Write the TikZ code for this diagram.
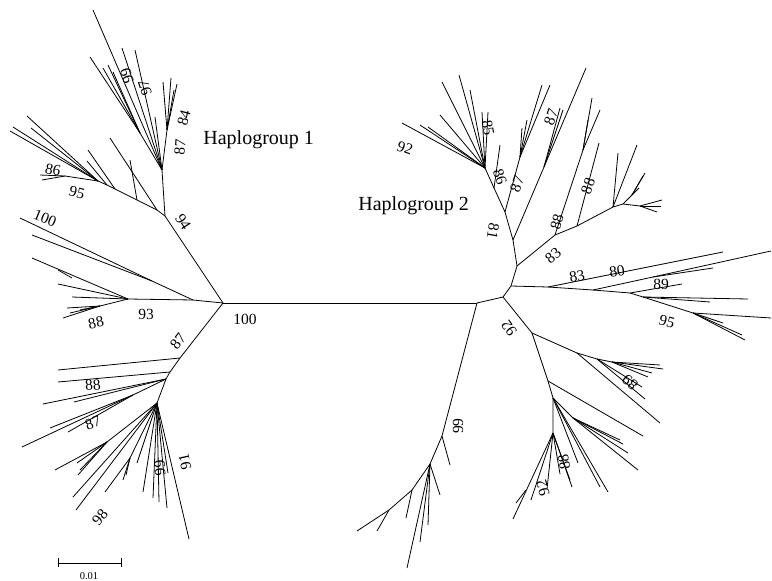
\documentclass[tikz,border=0pt]{standalone}
\usepackage{fontspec}
\setmainfont{Liberation Serif}
\begin{document}
\begin{tikzpicture}[x=1pt,y=-1pt,
  every path/.style={line width=0.8pt},
  bs/.style={font=\fontsize{15.5}{18}\selectfont, inner sep=0pt},
  hg/.style={font=\fontsize{20}{24}\selectfont, inner sep=0pt, anchor=west}]
\useasboundingbox (0,0) rectangle (772,581);
% ---------- trunk
\coordinate (L0) at (223,303);
\coordinate (R0) at (477,303);
\draw (L0) -- (R0);
% ---------- Haplogroup 1, upper
\coordinate (A) at (165,216);
\coordinate (A2) at (162,170);
\coordinate (A3) at (140,133);
\coordinate (A4) at (167,130);
\draw (L0) -- (A) -- (A2);
\foreach \p in {(93,10),(122,48),(135,50),(155,117)} \draw (A2) -- \p;
\draw (A2) -- (A3);
\foreach \p in {(90,57),(108,65),(113,72),(103,68)} \draw (A3) -- \p;
\draw (A2) -- (A4);
\foreach \p in {(163,82),(171,78),(177,84),(174,90)} \draw (A4) -- \p;
\coordinate (P1) at (157,210);
\coordinate (P2) at (137,200);
\coordinate (P3) at (115,189);
\coordinate (P4) at (107,185);
\coordinate (P5) at (98,181);
\coordinate (P6) at (65,176);
\draw (A) -- (P1) -- (P2) -- (P3) -- (P4) -- (P5) -- (P6) -- (40,175);
\draw (P6) -- (42,180);
\draw (P1) -- (110,138);
\draw (P2) -- (130,160);
\draw (P3) -- (88,150);
\draw (P4) -- (87,161);
\foreach \p in {(27,116),(10,131),(13,127),(31,128)} \draw (P5) -- \p;
% ---------- Haplogroup 1, left
\coordinate (B) at (193,300);
\coordinate (B1) at (152,281);
\coordinate (B2) at (128,299);
\coordinate (B3) at (100,306);
\draw (L0) -- (B) -- (B2);
\draw (B) -- (B1) -- (20,218);
\draw (B1) -- (32,235);
\draw (B2) -- (32,258);
\draw (72,278) -- (58,270);
\draw (B2) -- (58,284);
\draw (B2) -- (72,297);
\draw (B2) -- (B3);
\foreach \p in {(67,308),(63,318),(70,313),(80,310)} \draw (B3) -- \p;
% ---------- Haplogroup 1, lower
\coordinate (C1) at (180,358);
\coordinate (C2) at (170,372);
\coordinate (C3) at (166,379);
\coordinate (C5) at (133,395);
\coordinate (D) at (157,403);
\coordinate (D1) at (107,442);
\coordinate (D2) at (130,458);
\draw (L0) -- (C1) -- (C2) -- (C3) -- (D);
\draw (C1) -- (58,370);
\draw (C2) -- (58,382);
\draw (C3) -- (43,404);
\draw (C3) -- (74,402);
\draw (C3) -- (C5) -- (22,447);
\draw (C5) -- (68,432);
\draw (C5) -- (50,428);
\draw (D) -- (D1);
\foreach \p in {(55,470),(77,463),(80,470),(78,475)} \draw (D1) -- \p;
\draw (D) -- (73,497);
\draw (D) -- (76,510);
\draw (D) -- (D2);
\foreach \p in {(105,492),(123,480),(126,475)} \draw (D2) -- \p;
\foreach \p in {(137,463),(143,492),(153,498),(159,502),(167,508),(168,473),(189,539)} \draw (D) -- \p;
% ---------- Haplogroup 2
\coordinate (R1) at (503,297);
\coordinate (R3) at (511,286);
\coordinate (R4) at (517,266);
\draw (R0) -- (R1) -- (R3) -- (R4);
% lower-left clade (99)
\coordinate (R99) at (442,436);
\coordinate (R99b) at (430,464);
\coordinate (E1) at (412,490);
\coordinate (E2) at (389,510);
\draw (R0) -- (R99) -- (R99b) -- (E1) -- (E2) -- (357,531);
\draw (E2) -- (377,531);
\draw (E1) -- (406,518);
\draw (R99) -- (450,465);
\foreach \p in {(440,495),(428,525),(420,542),(407,568)} \draw (R99b) -- \p;
% lower-right clade (92)
\coordinate (R2) at (532,333);
\coordinate (F1) at (577,353);
\coordinate (F2) at (597,359);
\coordinate (F3) at (612,362);
\draw (R1) -- (R2) -- (F1) -- (F2) -- (F3);
\foreach \p in {(660,365),(663,369),(652,373),(648,377)} \draw (F3) -- \p;
\draw (F2) -- (642,387);
\draw (F2) -- (645,399);
\draw (F1) -- (660,423);
\coordinate (G1) at (548,381);
\coordinate (G2) at (553,398);
\coordinate (G3) at (553,433);
\coordinate (G4) at (573,418);
\draw (R2) -- (G1) -- (G2) -- (G3);
\draw (G1) -- (643,436);
\foreach \p in {(578,463),(600,487),(608,492)} \draw (G2) -- \p;
\draw (G2) -- (G4);
\foreach \p in {(620,440),(623,444),(628,453),(638,470)} \draw (G4) -- \p;
\foreach \p in {(513,519),(531,500),(547,489),(560,474),(570,480),(572,487)} \draw (G3) -- \p;
\draw (526,490) -- (516,503);
% horizontal clade (83/80/89/95)
\coordinate (H1) at (548,287);
\coordinate (H2) at (593,290);
\coordinate (H3) at (630,293);
\coordinate (H4) at (643,297);
\coordinate (H5) at (693,313);
\coordinate (H6) at (653,277);
\draw (R3) -- (H1) -- (H2) -- (H3) -- (H4) -- (H5);
\draw (H1) -- (723,252);
\draw (H2) -- (H6) -- (771,251);
\draw (H6) -- (713,268);
\draw (H3) -- (682,284);
\draw (H4) -- (748,299);
\draw (H4) -- (710,302);
\foreach \p in {(771,318),(723,323),(742,335),(745,340)} \draw (H5) -- \p;
% upper clade (81)
\coordinate (I1) at (513,240);
\coordinate (I2) at (505,212);
\coordinate (I3) at (485,168);
\coordinate (I4) at (544,167);
\coordinate (I5) at (520,157);
\coordinate (I6) at (494,188);
\draw (R4) -- (I1) -- (I2) -- (I6) -- (I3);
\draw (I1) -- (I4) -- (586,68);
\foreach \p in {(563,110),(560,108)} \draw (I4) -- \p;
\draw (I2) -- (I5);
\foreach \p in {(542,85),(550,85),(527,120),(522,128)} \draw (I5) -- \p;
\draw (I6) -- (500,145);
\foreach \p in {(402,123),(420,125),(428,127),(442,82),(459,75),(470,90),(482,112),(488,112),(440,115)} \draw (I3) -- \p;
% upper-right clade (83/88)
\coordinate (J1) at (555,235);
\coordinate (J2) at (577,226);
\coordinate (J3) at (613,207);
\coordinate (J4) at (623,204);
\coordinate (J5) at (632,195);
\coordinate (J6) at (640,206);
\coordinate (K1) at (583,150);
\draw (R4) -- (J1) -- (J2) -- (J3) -- (J4);
\draw (J1) -- (K1);
\foreach \p in {(592,98),(600,110),(588,120)} \draw (K1) -- \p;
\draw (J2) -- (599,143);
\draw (J3) -- (618,153);
\draw (J3) -- (637,145);
\draw (J4) -- (J5);
\foreach \p in {(645,173),(643,176),(639,188)} \draw (J5) -- \p;
\draw (J4) -- (J6);
\foreach \p in {(662,200),(657,212),(661,206)} \draw (J6) -- \p;
% ---------- bootstrap labels
\node[bs,rotate=108] (t1) at (127,76) {99};
\node[bs,rotate=108] (t2) at (145,88) {97};
\node[bs,rotate=75] (t3) at (184,118) {84};
\node[bs,rotate=85] (t4) at (180,147) {87};
\node[bs,rotate=-12] (t5) at (53,170) {86};
\node[bs,rotate=-15] (t6) at (77,193) {95};
\node[bs,rotate=-57] (t7) at (183,222) {94};
\node[bs,rotate=-22] (t8) at (45,218) {100};
\node[bs] (t9) at (146,314) {93};
\node[bs,rotate=12] (t10) at (96,323) {88};
\node[bs] (t11) at (245,319) {100};
\node[bs,rotate=52] (t12) at (178,341) {87};
\node[bs,rotate=5] (t13) at (93,385) {88};
\node[bs,rotate=20] (t14) at (93,423) {87};
\node[bs,rotate=50] (t15) at (100,517) {98};
\node[bs,rotate=95] (t16) at (160,468) {99};
\node[bs,rotate=103] (t17) at (185,462) {91};
\node[bs,rotate=-20] (u1) at (405,148) {92};
\node[bs,rotate=-80] (u2) at (488,128) {85};
\node[bs,rotate=-70] (u3) at (500,177) {86};
\node[bs,rotate=70] (u4) at (517,184) {87};
\node[bs,rotate=70] (u5) at (551,117) {87};
\node[bs,rotate=-100] (u6) at (493,231) {81};
\node[bs,rotate=70] (u7) at (588,186) {88};
\node[bs,rotate=75] (u8) at (557,222) {88};
\node[bs,rotate=40] (u9) at (553,256) {83};
\node[bs,rotate=10] (u10) at (577,276) {83};
\node[bs,rotate=10] (u11) at (617,271) {80};
\node[bs] (u12) at (661,284) {89};
\node[bs,rotate=-15] (u13) at (667,322) {95};
\node[bs,rotate=125] (u14) at (509,328) {92};
\node[bs,rotate=140] (u15) at (630,382) {89};
\node[bs,rotate=90] (u16) at (458,426) {99};
\node[bs,rotate=100] (u17) at (564,462) {88};
\node[bs,rotate=105] (u18) at (543,488) {92};
% ---------- titles
\node[hg] (h1) at (203,140) {Haplogroup 1};
\node[hg] (h2) at (358,206) {Haplogroup 2};
% ---------- scale bar
\coordinate (s1) at (58,563);
\coordinate (s2) at (121,563);
\draw (s1) -- (s2);
\draw ([yshift=-4]s1) -- ([yshift=5]s1);
\draw ([yshift=-4]s2) -- ([yshift=5]s2);
\node[font=\fontsize{10.5}{12}\selectfont, inner sep=0pt] (sl) at (89,576) {0.01};
\end{tikzpicture}
\end{document}
